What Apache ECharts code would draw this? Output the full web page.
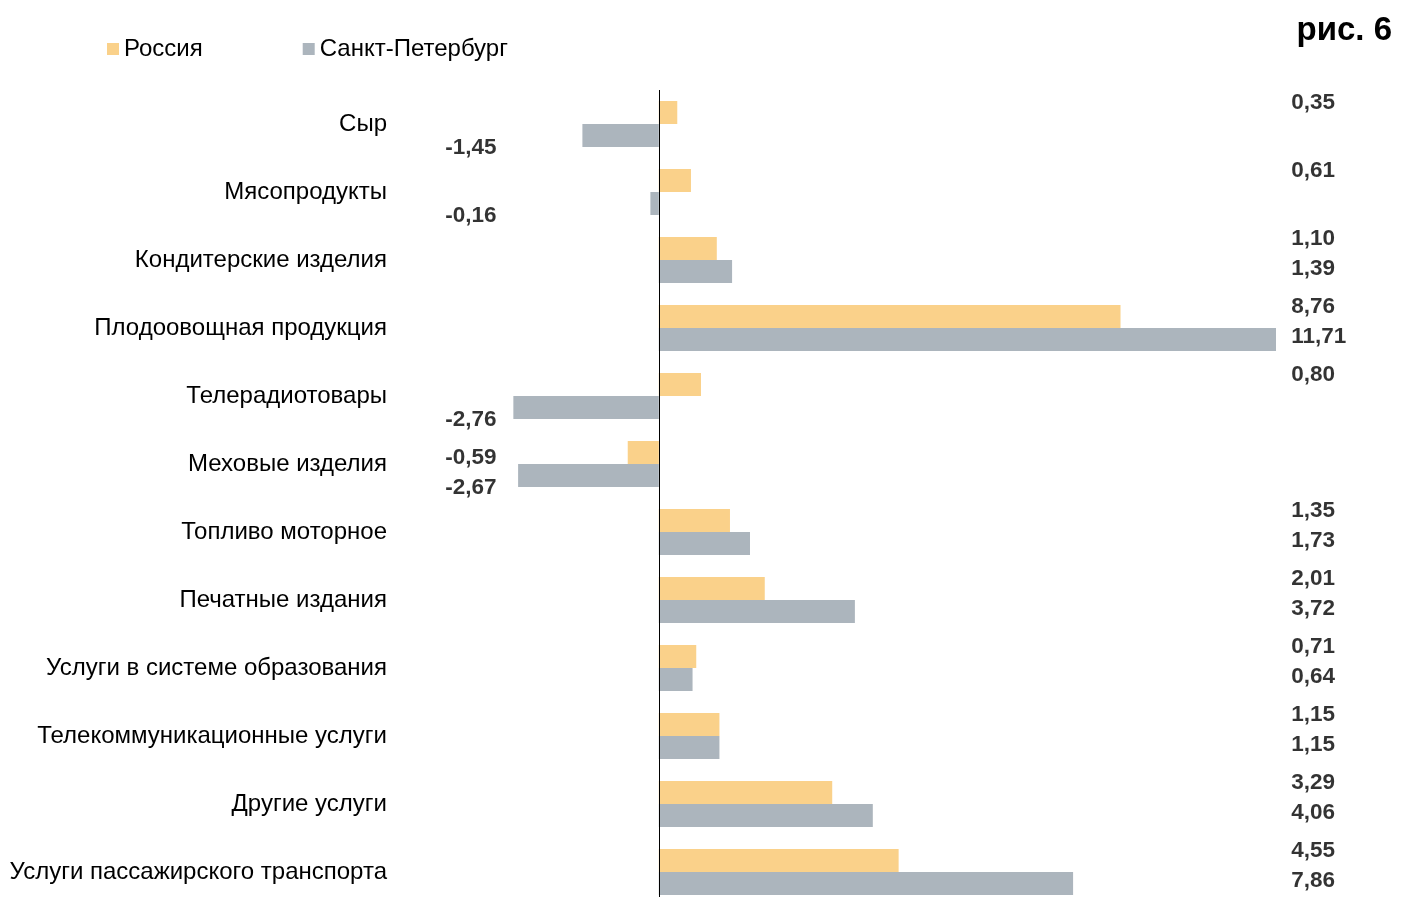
<!DOCTYPE html>
<html>
<head>
<meta charset="utf-8">
<script src="https://cdn.jsdelivr.net/npm/echarts@6/dist/echarts.min.js"></script>
<style>
  html, body { margin: 0; padding: 0; background: #fff; }
  #chart { width: 1408px; height: 897px; }
</style>
</head>
<body>
<div id="chart"></div>
<script>
var categories = ['Сыр', 'Мясопродукты', 'Кондитерские изделия', 'Плодоовощная продукция',
    'Телерадиотовары', 'Меховые изделия', 'Топливо моторное', 'Печатные издания',
    'Услуги в системе образования', 'Телекоммуникационные услуги', 'Другие услуги',
    'Услуги пассажирского транспорта'];
var russia = [0.35, 0.61, 1.10, 8.76, 0.80, -0.59, 1.35, 2.01, 0.71, 1.15, 3.29, 4.55];
var spb = [-1.45, -0.16, 1.39, 11.71, -2.76, -2.67, 1.73, 3.72, 0.64, 1.15, 4.06, 7.86];

var chart = echarts.init(document.getElementById('chart'));
var font = 'Liberation Sans, Arial, sans-serif';

// value labels sit in two columns: positives on the right, negatives on the left
var POS_COL = 12, NEG_COL = -3.08;
function labelData(vals, dyPos, dyNeg) {
    return vals.map(function (v, i) {
        return {
            value: [v >= 0 ? POS_COL : NEG_COL, categories[i]],
            label: {
                position: v >= 0 ? 'right' : 'left',
                offset: [0, v >= 0 ? dyPos : dyNeg],
                formatter: v.toFixed(2).replace('.', ',')
            }
        };
    });
}
var labelStyle = {
    show: true, distance: 0,
    color: '#000', fontWeight: 'bold', fontSize: 22.5, fontFamily: font
};

var option = {
    animation: false,
    title: {
        text: 'рис. 6', right: 11, top: 9,
        textStyle: {fontSize: 33, fontWeight: 'bold', color: '#000', fontFamily: font}
    },
    legend: {
        data: ['Россия', 'Санкт-Петербург'],
        left: 107, top: 37, padding: 0,
        icon: 'rect', itemWidth: 12, itemHeight: 12, itemGap: 100,
        textStyle: {fontSize: 24, color: '#000', fontFamily: font}
    },
    grid: {left: 448, width: 896, top: 90, height: 816, outerBoundsMode: 'none'},
    xAxis: {
        type: 'value', min: -4, max: 13,
        axisLine: {show: false}, axisTick: {show: false},
        axisLabel: {show: false}, splitLine: {show: false}
    },
    yAxis: {
        type: 'category', inverse: true, data: categories,
        axisLine: {show: false}, axisTick: {show: false},
        axisLabel: {margin: 61, fontSize: 24, color: '#000', fontFamily: font}
    },
    series: [
        {
            name: 'Россия', type: 'bar', data: russia,
            barWidth: 23, barGap: '0%',
            itemStyle: {color: '#FAD18A'},
            markLine: {
                silent: true, symbol: 'none', label: {show: false},
                lineStyle: {color: '#000', width: 1, type: 'solid'},
                data: [{xAxis: 0}]
            }
        },
        {
            name: 'Санкт-Петербург', type: 'bar', data: spb,
            barWidth: 23, barGap: '0%',
            itemStyle: {color: '#ACB5BD'}
        },
        {
            type: 'scatter', symbolSize: 0, silent: true,
            label: labelStyle, data: labelData(russia, -21, -6)
        },
        {
            type: 'scatter', symbolSize: 0, silent: true,
            label: labelStyle, data: labelData(spb, 9, 24)
        }
    ]
};
chart.setOption(option);
</script>
</body>
</html>
